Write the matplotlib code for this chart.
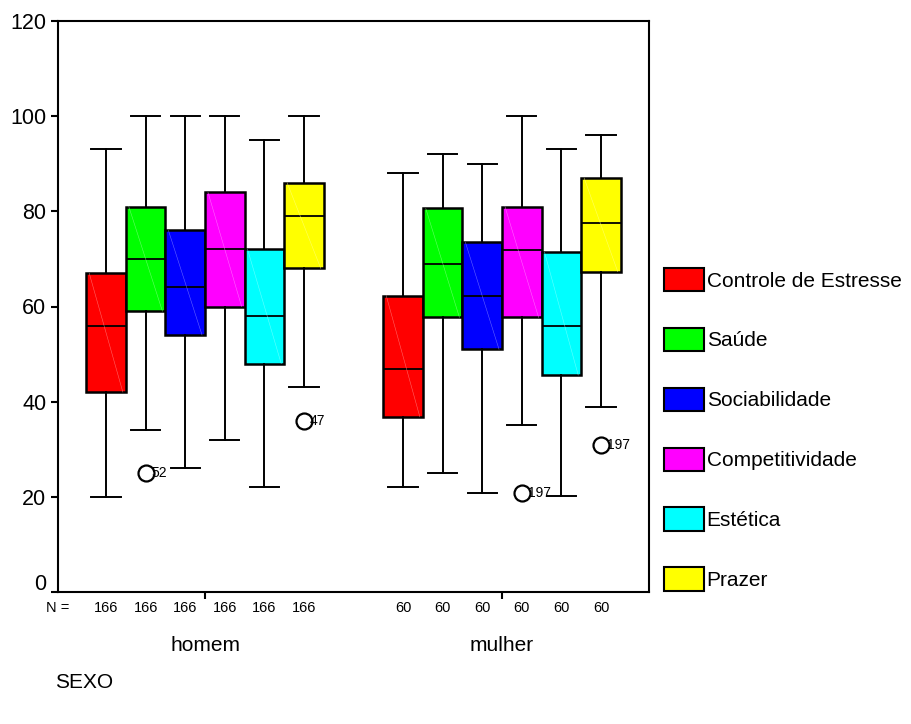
import numpy as np
import matplotlib
matplotlib.use("Agg")
from matplotlib import pyplot as plt
from matplotlib.patches import Patch
from matplotlib.colors import to_rgb
import matplotlib.transforms as mtransforms

plt.rcParams['font.family'] = ['Liberation Sans', 'DejaVu Sans']

# Data
groups = ['homem', 'mulher']
variables = ['Controle de Estresse', 'Saúde', 'Sociabilidade',
             'Competitividade', 'Estética', 'Prazer']
colors = ['#ff0000', '#00ff00', '#0000ff', '#ff00ff', '#00ffff', '#ffff00']
n_counts = [166, 60]

# order: whislo, q1, median, q3, whishi  (one row per variable)
homem_stats = [
    [20, 42, 56, 67, 93],
    [34, 59, 70, 81, 100],
    [26, 54, 64, 76, 100],
    [32, 60, 72, 84, 100],
    [22, 48, 58, 72, 95],
    [43, 68, 79, 86, 100],
]
mulher_stats = [
    [22, 36.8, 46.8, 62.3, 88],
    [25, 57.7, 69, 80.6, 92],
    [20.9, 51, 62.2, 73.5, 90],
    [35, 57.7, 71.9, 81, 100],
    [20.1, 45.6, 56, 71.4, 93],
    [38.8, 67.3, 77.5, 87, 96],
]
# outliers: (group index, variable index, value, case label)
outliers = [
    (0, 1, 25, '52'),
    (0, 5, 36, '47'),
    (1, 3, 20.8, '197'),
    (1, 5, 30.8, '197'),
]

fig = plt.figure(figsize=(9.11, 7.24), dpi=100)
ax = fig.add_axes([58 / 911, 1 - 592 / 724, 591 / 911, 571 / 724])

box_w = 0.1333
offsets = (np.arange(len(variables)) - 2.5) * box_w

for gi, stats_rows in enumerate([homem_stats, mulher_stats]):
    center = gi + 1
    for vi, row in enumerate(stats_rows):
        fl = [o[2] for o in outliers if o[0] == gi and o[1] == vi]
        st = dict(whislo=row[0], q1=row[1], med=row[2], q3=row[3],
                  whishi=row[4], fliers=fl)
        pos = center + offsets[vi]
        ax.bxp([st], positions=[pos], widths=box_w, capwidths=0.098,
               patch_artist=True, showfliers=True,
               boxprops=dict(facecolor=colors[vi], edgecolor='black', linewidth=1.8),
               medianprops=dict(color='black', linewidth=1.3),
               whiskerprops=dict(color='black', linewidth=1.4),
               capprops=dict(color='black', linewidth=1.4),
               flierprops=dict(marker='o', markerfacecolor='none',
                               markeredgecolor='black', markersize=11.5,
                               markeredgewidth=1.6))
        # faint diagonal shading line inside each box
        light = tuple(min(1, c + 0.55) for c in to_rgb(colors[vi]))
        ax.plot([pos - box_w / 2 + 0.01, pos + box_w / 2 - 0.01], [row[3], row[1]],
                color=light, linewidth=0.4, alpha=0.7, zorder=3)

for gi, vi, val, lab in outliers:
    ax.text(gi + 1 + offsets[vi] + 0.02, val, lab, fontsize=10,
            ha='left', va='center')

ax.set_xlim(0.505, 2.495)
ax.set_ylim(0, 120)
ax.set_yticks([0, 20, 40, 60, 80, 100, 120])
ax.set_xticks([1, 2])
ax.set_xticklabels(['', ''])
ax.tick_params(axis='y', labelsize=15.5, direction='out', length=5, width=1.5)
ax.tick_params(axis='x', direction='out', length=5, width=1.5)
for sp in ax.spines.values():
    sp.set_linewidth(1.5)

# lift the "0" label a little, as in the original
zero_lab = ax.get_yticklabels()[0]
zero_lab.set_transform(zero_lab.get_transform() +
                       mtransforms.ScaledTranslation(0, 10 / 100, fig.dpi_scale_trans))

# N = labels and group names below the axis
tr = ax.get_xaxis_transform()
ax.text(0.505, -0.028, 'N =', transform=tr, fontsize=10.5,
        ha='center', va='center')
for gi, n in enumerate(n_counts):
    for vi in range(len(variables)):
        ax.text(gi + 1 + offsets[vi], -0.028, str(n), transform=tr,
                fontsize=10.5, ha='center', va='center')
    ax.text(gi + 1, -0.093, groups[gi], transform=tr, fontsize=15,
            ha='center', va='center')

fig.text(55 / 911, 1 - 683 / 724, 'SEXO', fontsize=15, ha='left', va='center')

handles = [Patch(facecolor=c, edgecolor='black', linewidth=1.5) for c in colors]
fig.legend(handles, variables, loc='upper left',
           bbox_to_anchor=(664 / 911, 1 - 268 / 724), frameon=False,
           fontsize=15, handlelength=1.9, handleheight=1.35,
           handletextpad=0.15, labelspacing=1.75, borderpad=0,
           borderaxespad=0)

fig.savefig('out.png', dpi=100)
